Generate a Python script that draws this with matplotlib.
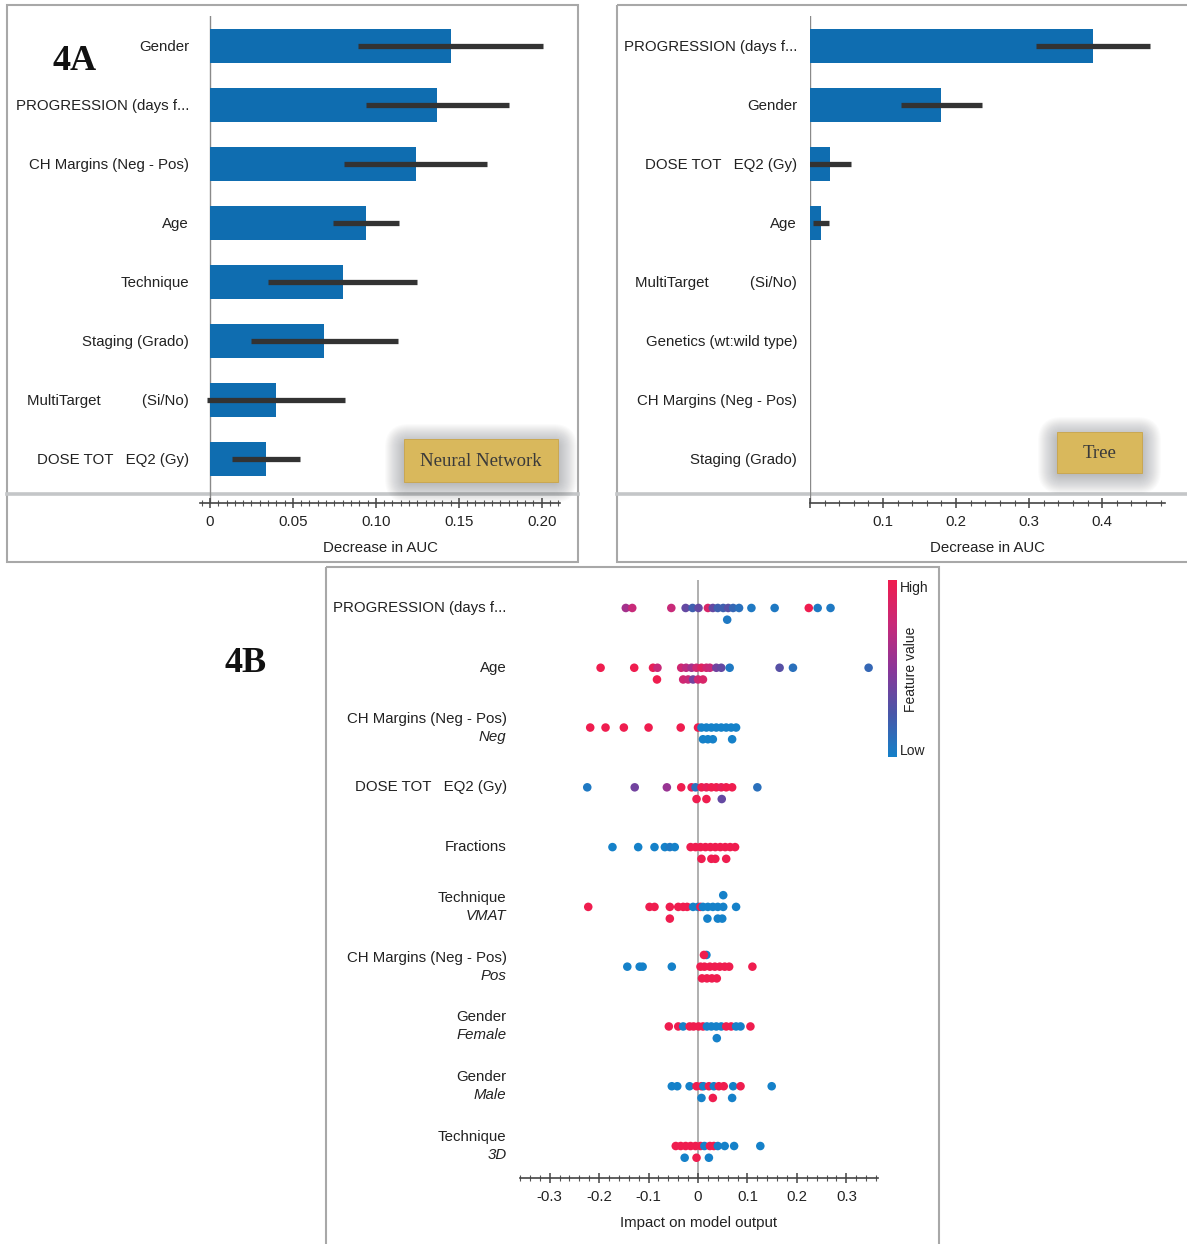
import numpy as np
import matplotlib
matplotlib.use("Agg")
from matplotlib import pyplot as plt, ticker as plticker
from matplotlib.colors import LinearSegmentedColormap
from matplotlib.patches import Rectangle, FancyBboxPatch

W, H = 1187, 1244
plt.rcParams["font.family"] = ["Liberation Sans", "DejaVu Sans"]

# --- 4A: permutation importance, neural network
nn_features = ["Gender", "PROGRESSION (days f...", "CH Margins (Neg - Pos)", "Age",
               "Technique", "Staging (Grado)", "MultiTarget          (Si/No)", "DOSE TOT   EQ2 (Gy)"]
nn_auc = [0.145, 0.137, 0.124, 0.094, 0.080, 0.069, 0.040, 0.034]
nn_err = [0.0555, 0.043, 0.043, 0.020, 0.045, 0.0445, 0.0415, 0.0205]

# --- 4A: permutation importance, tree
tree_features = ["PROGRESSION (days f...", "Gender", "DOSE TOT   EQ2 (Gy)", "Age",
                 "MultiTarget          (Si/No)", "Genetics (wt:wild type)",
                 "CH Margins (Neg - Pos)", "Staging (Grado)"]
tree_auc = [0.388, 0.180, 0.027, 0.015, 0.0, 0.0, 0.0, 0.0]
tree_err = [0.078, 0.055, 0.029, 0.0105, 0.0, 0.0, 0.0, 0.0]

# --- 4B: SHAP beeswarm, (impact, feature value, lane)
shap_main = ["PROGRESSION (days f...", "Age", "CH Margins (Neg - Pos)", "DOSE TOT   EQ2 (Gy)",
             "Fractions", "Technique", "CH Margins (Neg - Pos)", "Gender", "Gender", "Technique"]
shap_sub = ["", "", "Neg", "", "", "VMAT", "Pos", "Female", "Male", "3D"]

prog_pts = [(-0.146, 0.6, 0), (-0.133, 0.75, 0), (-0.054, 0.75, 0), (-0.025, 0.35, 0),
            (-0.011, 0.2, 0), (0.001, 0.35, 0), (0.020, 0.85, 0), (0.030, 0.35, 0),
            (0.040, 0.2, 0), (0.051, 0.2, 0), (0.061, 0.3, 0), (0.071, 0.15, 0),
            (0.083, 0.1, 0), (0.108, 0.05, 0), (0.155, 0.05, 0), (0.224, 1.0, 0),
            (0.242, 0.05, 0), (0.268, 0.05, 0), (0.059, 0.05, 1)]
age_pts = [(-0.197, 1.0, 0), (-0.129, 1.0, 0), (-0.091, 0.95, 0), (-0.082, 0.75, 0),
           (-0.034, 0.8, 0), (-0.024, 0.7, 0), (-0.013, 0.6, 0), (-0.003, 0.8, 0),
           (0.007, 0.9, 0), (0.017, 0.8, 0), (0.024, 0.75, 0), (0.037, 0.4, 0),
           (0.047, 0.35, 0), (0.064, 0.05, 0), (0.165, 0.3, 0), (0.192, 0.1, 0),
           (0.345, 0.15, 0), (-0.083, 1.0, 1), (-0.030, 0.8, 1), (-0.020, 0.75, 1),
           (-0.010, 0.4, 1), (0.000, 0.8, 1), (0.010, 0.85, 1)]
neg_pts = [(-0.218, 1.0, 0), (-0.187, 1.0, 0), (-0.150, 1.0, 0), (-0.100, 1.0, 0),
           (-0.035, 1.0, 0), (0.000, 1.0, 0), (0.007, 0.0, 0), (0.017, 0.0, 0),
           (0.027, 0.0, 0), (0.037, 0.0, 0), (0.047, 0.0, 0), (0.057, 0.0, 0),
           (0.067, 0.0, 0), (0.077, 0.0, 0), (0.010, 0.0, 1), (0.020, 0.0, 1),
           (0.030, 0.0, 1), (0.069, 0.0, 1)]
dose_pts = [(-0.224, 0.05, 0), (-0.128, 0.4, 0), (-0.063, 0.55, 0), (-0.034, 1.0, 0),
            (-0.013, 0.95, 0), (-0.005, 0.1, 0), (0.007, 1.0, 0), (0.017, 0.95, 0),
            (0.027, 1.0, 0), (0.037, 1.0, 0), (0.047, 0.95, 0), (0.057, 1.0, 0),
            (0.069, 1.0, 0), (0.120, 0.1, 0), (-0.003, 1.0, 1), (0.017, 1.0, 1),
            (0.048, 0.35, 1)]
frac_pts = [(-0.173, 0.0, 0), (-0.121, 0.0, 0), (-0.088, 0.0, 0), (-0.067, 0.0, 0),
            (-0.057, 0.05, 0), (-0.047, 0.0, 0), (-0.015, 1.0, 0), (-0.005, 1.0, 0),
            (0.005, 1.0, 0), (0.015, 1.0, 0), (0.025, 1.0, 0), (0.035, 1.0, 0),
            (0.045, 1.0, 0), (0.055, 1.0, 0), (0.065, 1.0, 0), (0.075, 1.0, 0),
            (0.007, 1.0, 1), (0.027, 1.0, 1), (0.035, 1.0, 1), (0.057, 1.0, 1)]
vmat_pts = [(-0.222, 1.0, 0), (-0.098, 1.0, 0), (-0.088, 1.0, 0), (-0.057, 1.0, 0),
            (-0.040, 1.0, 0), (-0.030, 1.0, 0), (-0.022, 1.0, 0), (-0.010, 0.0, 0),
            (0.000, 0.0, 0), (0.005, 1.0, 0), (0.010, 0.0, 0), (0.020, 0.0, 0),
            (0.030, 0.0, 0), (0.040, 0.0, 0), (0.051, 0.0, 0), (0.077, 0.0, 0),
            (0.051, 0.0, -1), (-0.057, 1.0, 1), (0.019, 0.0, 1), (0.040, 0.0, 1),
            (0.049, 0.0, 1)]
pos_pts = [(-0.143, 0.0, 0), (-0.118, 0.0, 0), (-0.112, 0.0, 0), (-0.053, 0.0, 0),
           (0.005, 1.0, 0), (0.013, 1.0, 0), (0.024, 1.0, 0), (0.034, 1.0, 0),
           (0.044, 1.0, 0), (0.054, 1.0, 0), (0.063, 1.0, 0), (0.110, 1.0, 0),
           (0.017, 0.0, -1), (0.012, 1.0, -1), (0.008, 1.0, 1), (0.018, 1.0, 1),
           (0.028, 1.0, 1), (0.038, 1.0, 1)]
female_pts = [(-0.059, 1.0, 0), (-0.040, 1.0, 0), (-0.030, 0.0, 0), (-0.017, 1.0, 0),
              (-0.009, 1.0, 0), (0.001, 1.0, 0), (0.010, 1.0, 0), (0.018, 0.0, 0),
              (0.027, 0.0, 0), (0.037, 0.0, 0), (0.047, 0.0, 0), (0.057, 1.0, 0),
              (0.067, 1.0, 0), (0.077, 0.0, 0), (0.086, 0.0, 0), (0.106, 1.0, 0),
              (0.038, 0.0, 1)]
male_pts = [(-0.053, 0.0, 0), (-0.042, 0.0, 0), (-0.017, 0.0, 0), (-0.003, 1.0, 0),
            (0.007, 1.0, 0), (0.011, 0.0, 0), (0.022, 1.0, 0), (0.032, 0.0, 0),
            (0.042, 1.0, 0), (0.052, 1.0, 0), (0.071, 0.0, 0), (0.086, 1.0, 0),
            (0.149, 0.0, 0), (0.007, 0.0, 1), (0.030, 1.0, 1), (0.069, 0.0, 1)]
tech3d_pts = [(-0.045, 1.0, 0), (-0.035, 1.0, 0), (-0.025, 1.0, 0), (-0.015, 1.0, 0),
              (-0.005, 1.0, 0), (0.005, 1.0, 0), (0.013, 0.0, 0), (0.024, 1.0, 0),
              (0.032, 1.0, 0), (0.040, 0.0, 0), (0.054, 0.0, 0), (0.073, 0.0, 0),
              (0.126, 0.0, 0), (-0.027, 0.0, 1), (-0.003, 1.0, 1), (0.022, 0.0, 1)]
shap_points = [prog_pts, age_pts, neg_pts, dose_pts, frac_pts, vmat_pts,
               pos_pts, female_pts, male_pts, tech3d_pts]

BAR_BLUE = "#0f6db0"
ERR_GREY = "#333333"
TXT = "#222222"
GOLD = "#d9b85c"
shap_cmap = LinearSegmentedColormap.from_list(
    "shap_like", ["#1581c9", "#4a56a8", "#8c3699", "#c82a79", "#ef1d4f"])


def px_axes(fig, left, top, right, bottom, **kw):
    return fig.add_axes([left / W, 1 - bottom / H, (right - left) / W, (bottom - top) / H], **kw)


def shadow_box(ax, x0, y0, x1, y1, label, fs):
    # soft drop shadow made of stacked translucent rectangles
    for k in range(20, 0, -1):
        ax.add_patch(FancyBboxPatch((x0 - k + 1, y0 - k + 5), (x1 - x0) + 2 * k - 2, (y1 - y0) + 2 * k - 4,
                                    boxstyle="round,pad=0,rounding_size=%d" % (k + 4),
                                    fc="#1c2028", ec="none", alpha=0.017, zorder=2))
    ax.add_patch(Rectangle((x0, y0), x1 - x0, y1 - y0, fc=GOLD, ec="#c9a448", lw=0.6, zorder=3))
    ax.text((x0 + x1) / 2, (y0 + y1) / 2 + 1, label, ha="center", va="center", fontsize=fs,
            family=["Liberation Serif", "DejaVu Serif"], color="#3a3a3a", zorder=4)


def importance_panel(fig, left, right, xmax, feats, vals, errs, xmin, label_end, major, minor, fmt, zero_label):
    ax = px_axes(fig, left, 16, right, 503)
    ax.patch.set_alpha(0)
    y = np.arange(len(feats))
    ax.barh(y, vals, height=0.59, color=BAR_BLUE, zorder=2)
    for yi, v, e in zip(y, vals, errs):
        if e > 0:
            ax.plot([v - e, v + e], [yi, yi], color=ERR_GREY, lw=3.8, solid_capstyle="butt", zorder=3)
    ax.axvline(0, color="#8a8a8a", lw=1.0, zorder=1)
    ax.set_xlim(xmin, xmax)
    ax.set_ylim(7.746, -0.508)
    ax.set_yticks(y)
    ax.set_yticklabels(feats, fontsize=10.8, color=TXT)
    ax.tick_params(axis="y", length=0, pad=(left - label_end) * 0.72)
    for s in ["top", "right", "left"]:
        ax.spines[s].set_visible(False)
    ax.spines["bottom"].set_color("#444444")
    ax.spines["bottom"].set_linewidth(1.2)
    ax.xaxis.set_major_locator(plticker.MultipleLocator(major))
    ax.xaxis.set_minor_locator(plticker.MultipleLocator(minor))
    ax.xaxis.set_major_formatter(plticker.FuncFormatter(
        lambda v, p: ("0" if zero_label else "") if abs(v) < 1e-9 else fmt % v))
    ax.tick_params(axis="x", which="major", direction="inout", length=7, width=1.1, color="#444444",
                   labelsize=10.8, labelcolor=TXT, pad=5)
    ax.tick_params(axis="x", which="minor", direction="inout", length=4, width=0.8, color="#555555")
    ax.set_xlabel("Decrease in AUC", fontsize=10.8, color=TXT, labelpad=9)
    return ax


fig = plt.figure(figsize=(W / 100, H / 100), dpi=100)

# background layer for frames, separators and the model tags
bg = fig.add_axes([0, 0, 1, 1])
bg.set_xlim(0, W)
bg.set_ylim(H, 0)
bg.axis("off")
frame = dict(fc="none", ec="#a8a8a8", lw=1.5, zorder=1)
bg.add_patch(Rectangle((7, 5), 571, 557, **frame))
bg.add_patch(Rectangle((617, 5), 580, 557, **frame))
bg.add_patch(Rectangle((326, 567), 613, 690, **frame))
bg.plot([7, 578], [494, 494], color="#c4c6c8", lw=2.6, zorder=1)
bg.plot([617, W], [494, 494], color="#c4c6c8", lw=2.6, zorder=1)
shadow_box(bg, 404, 439, 558, 482, "Neural Network", 13.5)
shadow_box(bg, 1057, 432, 1142, 473, "Tree", 13.5)
bg.text(75, 61, "4A", ha="center", va="center", fontsize=26, fontweight="bold",
        family=["Liberation Serif", "DejaVu Serif"], color="#111111")
bg.text(246, 664, "4B", ha="center", va="center", fontsize=26, fontweight="bold",
        family=["Liberation Serif", "DejaVu Serif"], color="#111111")

importance_panel(fig, 200, 560, 0.211, nn_features, nn_auc, nn_err, -0.006, 189, 0.05, 0.005, "%.2f", True)
importance_panel(fig, 810, 1165, 0.486, tree_features, tree_auc, tree_err, 0.0, 797, 0.1, 0.02, "%.1f", False)

# SHAP beeswarm
ax = px_axes(fig, 520, 580, 878, 1178)
ax.patch.set_alpha(0)
lane = 0.196
for i, pts in enumerate(shap_points):
    arr = np.array(pts)
    ax.scatter(arr[:, 0], i + arr[:, 2] * lane, c=arr[:, 1], cmap=shap_cmap, vmin=0, vmax=1,
               s=38, edgecolors="none", zorder=3)
ax.axvline(0, color="#a9a9a9", lw=1.3, zorder=1)
ax.set_xlim(-0.36, 0.364)
ax.set_ylim(9.535, -0.468)
ax.set_yticks([])
for i, (main, sub) in enumerate(zip(shap_main, shap_sub)):
    if sub:
        ax.text(-0.387, i - 0.15, main, ha="right", va="center", fontsize=10.8, color=TXT)
        ax.text(-0.387, i + 0.15, sub, ha="right", va="center", fontsize=10.8, color=TXT, style="italic")
    else:
        ax.text(-0.387, i, main, ha="right", va="center", fontsize=10.8, color=TXT)
for s in ["top", "right", "left"]:
    ax.spines[s].set_visible(False)
ax.spines["bottom"].set_color("#444444")
ax.spines["bottom"].set_linewidth(1.2)
ax.xaxis.set_major_locator(plticker.MultipleLocator(0.1))
ax.xaxis.set_minor_locator(plticker.MultipleLocator(0.02))
ax.xaxis.set_major_formatter(plticker.FuncFormatter(lambda v, p: "0" if abs(v) < 1e-9 else "%.1f" % v))
ax.tick_params(axis="x", which="major", direction="inout", length=7, width=1.1, color="#444444",
               labelsize=10.8, labelcolor=TXT, pad=5)
ax.tick_params(axis="x", which="minor", direction="inout", length=4, width=0.8, color="#555555")
ax.set_xlabel("Impact on model output", fontsize=10.8, color=TXT, labelpad=9)

# colour bar for feature value
cax = px_axes(fig, 888, 580, 897, 757)
grad = np.linspace(1, 0, 256).reshape(-1, 1)
cax.imshow(grad, aspect="auto", cmap=shap_cmap, extent=[0, 1, 0, 1])
cax.set_xticks([])
cax.set_yticks([])
for s in cax.spines.values():
    s.set_visible(False)
bg.text(900, 588, "High", ha="left", va="center", fontsize=10, color=TXT)
bg.text(900, 751, "Low", ha="left", va="center", fontsize=10, color=TXT)
bg.text(911, 669, "Feature value", ha="center", va="center", rotation=90, fontsize=10, color=TXT)

fig.savefig("out.png", dpi=100)
